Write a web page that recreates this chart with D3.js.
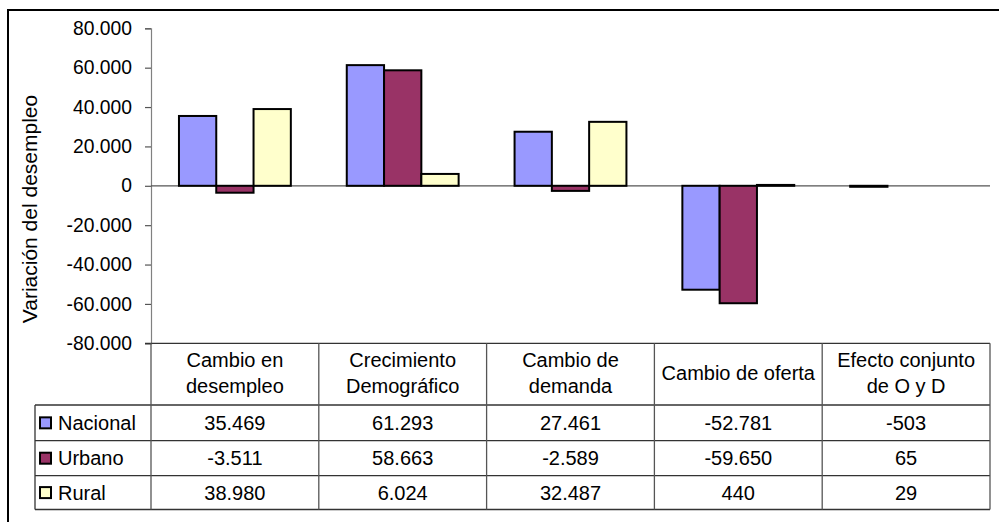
<!DOCTYPE html>
<html><head><meta charset="utf-8">
<script src="https://cdn.jsdelivr.net/npm/d3@7"></script>
<style>
body{margin:0;background:#fff;}
text{font-family:"Liberation Sans",Arial,sans-serif;fill:#000;}
</style></head>
<body><svg id="c" width="999" height="522"></svg>
<script>
const categories = [["Cambio en","desempleo"],["Crecimiento","Demográfico"],["Cambio de","demanda"],["Cambio de oferta"],["Efecto conjunto","de O y D"]];
const catKeys = ["c1","c2","c3","c4","c5"];
const seriesNames = ["Nacional","Urbano","Rural"];
const nacional = [35469, 61293, 27461, -52781, -503];
const urbano = [-3511, 58663, -2589, -59650, 65];
const rural = [38980, 6024, 32487, 440, 29];
const valueLabels = [
  ["35.469","61.293","27.461","-52.781","-503"],
  ["-3.511","58.663","-2.589","-59.650","65"],
  ["38.980","6.024","32.487","440","29"]
];
const yTicks = [80000,60000,40000,20000,0,-20000,-40000,-60000,-80000];
const yTickLabels = ["80.000","60.000","40.000","20.000","0","-20.000","-40.000","-60.000","-80.000"];
const colors = ["#9999FF","#993366","#FFFFCC"];
const seriesValues = [nacional, urbano, rural];

const svg = d3.select("#c");
const L = 151, R = 990, T = 28.3, B = 343.3;
const rowY = [405, 440.7, 475.7, 509.5];

// outer border
svg.append("path").attr("d","M8,1000 L8,10 L1200,10").attr("fill","none").attr("stroke","#000").attr("stroke-width",2);

const y = d3.scaleLinear().domain([-80000,80000]).range([B,T]);
const x = d3.scaleBand().domain(catKeys).range([L,R]).padding(0);
const xs = d3.scaleBand().domain(seriesNames).range([0,x.bandwidth()]).paddingInner(0).paddingOuter(0.75);

// y axis
const yAxis = d3.axisLeft(y).tickValues(yTicks).tickSize(6).tickFormat((d,i)=>yTickLabels[i]);
const ga = svg.append("g").attr("transform",`translate(${L},0)`).call(yAxis);
ga.select(".domain").attr("stroke","#808080").attr("stroke-width",1.2);
ga.selectAll(".tick line").attr("stroke","#555").attr("stroke-width",1.2);
ga.selectAll(".tick text").attr("x",-19).attr("font-size",19.3).attr("font-family","Liberation Sans, Arial, sans-serif").attr("fill","#000");

// zero line
svg.append("line").attr("x1",L).attr("x2",R).attr("y1",y(0)).attr("y2",y(0)).attr("stroke","#555").attr("stroke-width",1.2);

// bars (bars thinner than half a pixel are not drawn, as in the source)
seriesNames.forEach((s,si)=>{
  svg.append("g").selectAll("rect").data(seriesValues[si].filter(d=>Math.abs(y(d)-y(0))>=0.5)
      .map(d=>({v:d,i:seriesValues[si].indexOf(d)}))).join("rect")
    .attr("x",d=>x(catKeys[d.i])+xs(s))
    .attr("width",xs.bandwidth())
    .attr("y",d=>Math.min(y(d.v),y(0)))
    .attr("height",d=>Math.abs(y(d.v)-y(0)))
    .attr("fill",colors[si]).attr("stroke","#000").attr("stroke-width",2);
});

// axis title
svg.append("text").attr("transform","translate(37,209) rotate(-90)").attr("text-anchor","middle")
  .attr("font-size",21).text("Variación del desempleo");

// table lines
const tl = svg.append("g").attr("stroke","#333").attr("stroke-width",1.3);
tl.append("line").attr("x1",145).attr("x2",R).attr("y1",B).attr("y2",B);
rowY.forEach(yy=>tl.append("line").attr("x1",35).attr("x2",R).attr("y1",yy).attr("y2",yy));
tl.append("line").attr("x1",35).attr("x2",35).attr("y1",rowY[0]).attr("y2",rowY[3]);
catKeys.concat(["end"]).forEach((k,i)=>{
  const xx = k==="end"? R : x(k);
  tl.append("line").attr("x1",xx).attr("x2",xx).attr("y1",B).attr("y2",rowY[3]).attr("stroke","#555");
});

// header labels
categories.forEach((lines,i)=>{
  const cx = x(catKeys[i]) + x.bandwidth()/2;
  const t = svg.append("text").attr("text-anchor","middle").attr("font-size",20);
  if(lines.length===1){
    t.append("tspan").attr("x",cx).attr("y",380).text(lines[0]);
  } else {
    t.append("tspan").attr("x",cx).attr("y",367).text(lines[0]);
    t.append("tspan").attr("x",cx).attr("y",392.5).text(lines[1]);
  }
});

// rows
seriesNames.forEach((s,si)=>{
  const top = rowY[si], bot = rowY[si+1];
  const cy = (top+bot)/2;
  svg.append("rect").attr("x",40).attr("y",cy-5.5).attr("width",11).attr("height",11)
    .attr("fill",colors[si]).attr("stroke","#000").attr("stroke-width",2);
  svg.append("text").attr("x",58).attr("y",cy+7.2).attr("font-size",20).text(s);
  valueLabels[si].forEach((v,i)=>{
    svg.append("text").attr("x",x(catKeys[i])+x.bandwidth()/2).attr("y",cy+7.2)
      .attr("text-anchor","middle").attr("font-size",20).text(v);
  });
});
</script></body></html>
